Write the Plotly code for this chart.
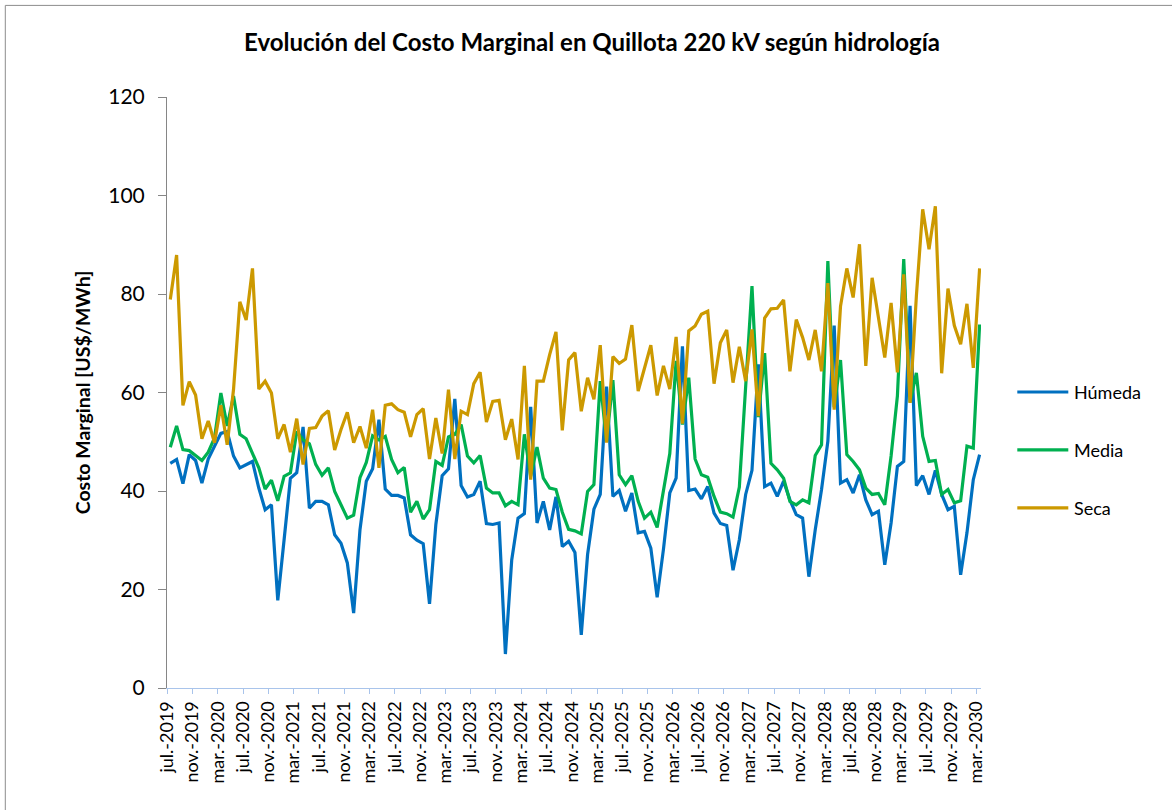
import plotly.graph_objects as go

# ---------------- data ----------------
month_abbr = ["ene.", "feb.", "mar.", "abr.", "may.", "jun.",
              "jul.", "ago.", "sept.", "oct.", "nov.", "dic."]
start_year, start_month, n_months = 2019, 7, 129
labels = []
for k in range(n_months):
    m = (start_month - 1 + k) % 12
    y = start_year + (start_month - 1 + k) // 12
    labels.append(f"{month_abbr[m]}-{y}")

humeda = [45.6, 46.4, 41.5, 47.4, 46.2, 41.6, 46.5, 49.2, 51.7, 52.1, 47.1, 44.7,
          45.4, 46.0, 40.6, 36.2, 37.2, 17.8, 30.1, 42.6, 43.7, 53.0, 36.5, 37.9,
          37.9, 37.2, 31.1, 29.4, 25.4, 15.2, 32.1, 42.0, 44.5, 54.5, 40.4, 39.1,
          39.1, 38.6, 31.1, 30.0, 29.3, 17.1, 33.2, 43.1, 44.5, 58.7, 41.1, 38.8,
          39.3, 42.0, 33.4, 33.2, 33.5, 6.9, 26.0, 34.5, 35.4, 57.1, 33.5, 37.9,
          32.1, 38.8, 28.7, 29.8, 27.5, 10.8, 27.1, 36.3, 39.3, 61.2, 38.9, 40.1,
          35.9, 39.6, 31.5, 31.8, 28.4, 18.4, 28.2, 39.6, 42.6, 69.4, 40.1, 40.4,
          38.4, 40.9, 35.5, 33.4, 33.0, 23.9, 30.1, 39.3, 44.2, 65.7, 40.9, 41.6,
          38.9, 42.0, 38.2, 35.2, 34.5, 22.6, 32.1, 40.3, 50.1, 73.6, 41.6, 42.3,
          39.6, 43.3, 38.2, 35.2, 35.9, 25.0, 33.5, 45.0, 46.0, 77.6, 41.1, 43.1,
          39.3, 44.2, 39.3, 36.2, 36.9, 23.0, 31.5, 42.3, 47.4]

media = [48.9, 53.2, 48.4, 48.2, 47.2, 46.2, 47.9, 50.8, 59.9, 53.2, 59.3, 51.5,
         50.6, 47.7, 44.7, 40.4, 42.2, 38.0, 43.0, 43.7, 52.1, 50.4, 49.6, 45.4,
         43.2, 44.7, 39.9, 37.2, 34.5, 35.1, 42.7, 45.8, 51.2, 50.4, 51.1, 46.4,
         43.7, 44.8, 35.7, 37.9, 34.3, 36.2, 46.0, 45.2, 51.0, 51.5, 53.5, 47.1,
         45.7, 47.2, 40.6, 39.6, 39.6, 37.0, 37.9, 37.2, 51.5, 43.0, 48.9, 42.6,
         40.6, 40.3, 35.7, 32.2, 31.9, 31.3, 39.9, 41.3, 62.3, 50.0, 62.5, 43.3,
         41.3, 43.1, 37.9, 34.5, 35.7, 32.6, 40.3, 47.6, 66.4, 53.5, 63.0, 46.5,
         43.3, 42.8, 38.9, 35.7, 35.4, 34.7, 40.8, 61.0, 81.6, 55.0, 68.0, 45.6,
         44.3, 42.6, 37.9, 37.2, 38.2, 37.6, 47.2, 49.4, 86.7, 57.0, 66.6, 47.4,
         46.0, 44.3, 40.6, 39.3, 39.5, 37.2, 47.1, 59.3, 87.1, 58.0, 64.0, 51.1,
         46.0, 46.2, 39.3, 40.3, 37.6, 38.0, 49.1, 48.7, 73.8]

seca = [78.9, 87.9, 57.4, 62.2, 59.5, 50.6, 54.2, 49.8, 57.4, 49.4, 60.6, 78.4,
        74.7, 85.2, 60.7, 62.3, 59.9, 50.6, 53.5, 47.9, 54.7, 45.4, 52.7, 52.9,
        55.2, 56.3, 48.3, 52.5, 56.0, 49.8, 53.1, 48.7, 56.5, 44.7, 57.4, 57.7,
        56.5, 56.0, 51.0, 55.5, 56.7, 46.5, 54.8, 47.6, 60.6, 46.5, 56.2, 55.5,
        61.8, 64.1, 54.0, 58.2, 58.4, 50.4, 54.6, 46.4, 65.4, 42.3, 62.3, 62.3,
        67.7, 72.3, 52.3, 66.6, 68.1, 56.2, 63.0, 58.6, 69.6, 49.8, 67.3, 65.9,
        66.8, 73.7, 60.3, 65.0, 69.6, 59.4, 65.4, 60.7, 71.3, 53.7, 72.5, 73.5,
        75.9, 76.5, 61.8, 70.1, 72.7, 62.0, 69.3, 62.3, 72.8, 55.2, 75.1, 77.0,
        77.1, 78.8, 64.3, 74.8, 71.2, 66.6, 72.7, 64.3, 82.2, 56.5, 77.5, 85.2,
        79.3, 90.1, 65.4, 83.3, 75.5, 67.1, 78.2, 64.1, 84.0, 57.9, 79.6, 97.2,
        89.1, 97.8, 63.9, 81.1, 73.6, 69.8, 78.0, 65.0, 85.2]

series_names = ["Húmeda", "Media", "Seca"]
series_values = [humeda, media, seca]
series_colors = ["#0070C0", "#00B050", "#CC9900"]

y_ticks = [0, 20, 40, 60, 80, 100, 120]

# ---------------- figure ----------------
x_idx = list(range(n_months))
fig = go.Figure()
for name, vals, col in zip(series_names, series_values, series_colors):
    fig.add_trace(go.Scatter(
        x=x_idx, y=vals, name=name, mode="lines",
        line=dict(color=col, width=3.2),
        showlegend=False,
        hovertemplate="%{text}: %{y:.1f}<extra>" + name + "</extra>",
        text=labels,
    ))

FONT = "Lato, 'Open Sans', sans-serif"

tick_pos = [i - 0.5 for i in x_idx[::4]]
fig.update_xaxes(
    range=[-0.52, 128.22],
    tickmode="array",
    tickvals=tick_pos,
    ticktext=labels[::4],
    tickangle=-90,
    tickfont=dict(family=FONT, size=18, color="#000000"),
    ticks="outside", ticklen=5, tickcolor="#A9C4EB", tickwidth=1,
    showline=True, linecolor="#A9C4EB", linewidth=1,
    showgrid=False, zeroline=False,
)
fig.update_yaxes(
    range=[0, 120],
    tickmode="array", tickvals=y_ticks,
    tickfont=dict(family=FONT, size=21, color="#000000"),
    ticks="outside", ticklen=8, tickcolor="#868686", tickwidth=1,
    ticklabelstandoff=9,
    showline=True, linecolor="#868686", linewidth=1,
    showgrid=False, zeroline=False,
    title=dict(text="<b>Costo Marginal [US$/MWh]</b>",
               font=dict(family=FONT, size=19.5, color="#000000"),
               standoff=12),
)

# manual legend (long line samples like the original)
pw, ph = 814.0, 591.6
x_left, y_bottom = 166.7, 688.3
def px_x(p):
    return (p - x_left) / pw
def px_y(p):
    return (y_bottom - p) / ph

legend_y_px = [392, 450, 508]
for name, col, ly in zip(series_names, series_colors, legend_y_px):
    fig.add_shape(type="line", xref="paper", yref="paper",
                  x0=px_x(1017), x1=px_x(1068), y0=px_y(ly), y1=px_y(ly),
                  line=dict(color=col, width=3.2))
    fig.add_annotation(xref="paper", yref="paper", x=px_x(1072), y=px_y(ly),
                       text=name, showarrow=False, xanchor="left", yanchor="middle",
                       font=dict(family=FONT, size=18, color="#000000"))

# outer chart frame
fig.add_shape(type="rect", xref="paper", yref="paper",
              x0=px_x(5), x1=px_x(1180), y0=px_y(820), y1=px_y(5),
              line=dict(color="#8C8C8C", width=1), fillcolor="rgba(0,0,0,0)", layer="below")

fig.update_layout(
    width=1172, height=810,
    margin=dict(l=167, r=191, t=97, b=122),
    paper_bgcolor="#FFFFFF", plot_bgcolor="#FFFFFF",
    title=dict(text="<b>Evolución del Costo Marginal en Quillota 220 kV según hidrología</b>",
               x=592 / 1172, xref="container", xanchor="center",
               y=1 - 43 / 810, yref="container", yanchor="middle",
               font=dict(family=FONT, size=24, color="#000000")),
    font=dict(family=FONT),
)

fig.write_html("out.html", config={"displayModeBar": False},
               post_script="document.body.style.margin='0';document.body.style.overflow='hidden';")
